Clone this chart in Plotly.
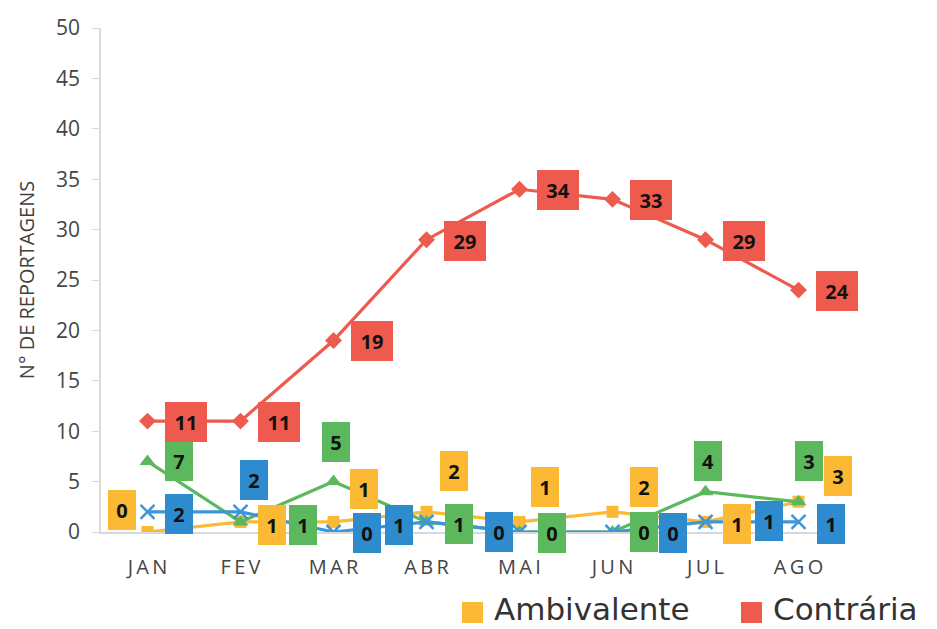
import plotly.graph_objects as go

# Monthly counts of news reports by stance
months = ["JAN", "FEV", "MAR", "ABR", "MAI", "JUN", "JUL", "AGO"]
contraria = [11, 11, 19, 29, 34, 33, 29, 24]
ambivalente = [0, 1, 1, 2, 1, 2, 1, 3]
favoravel = [7, 1, 5, 1, 0, 0, 4, 3]
neutra = [2, 2, 0, 1, 0, 0, 1, 1]

RED = "#EF5A4E"
YELLOW = "#FBB934"
GREEN = "#5CB85C"
BLUE = "#2D8BCE"
BLUE_LINE = "#3C97DA"
AXIS_TXT = "#454545"
FONT = "Open Sans"

# plot area in pixels (used for pixel offsets of the value boxes and legend)
W, H = 937, 629
L, R, T, B = 101, 92, 28, 97
PW, PH = W - L - R, H - T - B

# value-box offsets (dx right, dy down) in pixels, per series and month
off_red = [(38, 1)] * 8
off_yel = [(-26, -22), (31, 3), (30, -33), (27, -41), (25, -35), (31, -25), (31, 2), (39, -26)]
off_grn = [(31, 0), (62, 3), (2, -40), (32, 2), (32, 1), (31, 0), (2, -31), (10, -41)]
off_blu = [(31, 2), (13, -32), (33, 1), (-28, 3), (-21, 0), (60, 1), (63, -1), (32, 2)]

fig = go.Figure()

series = [
    ("Ambivalente", ambivalente, YELLOW, YELLOW, dict(symbol="square", size=12, color=YELLOW), off_yel),
    ("Favorável", favoravel, GREEN, GREEN, dict(symbol="triangle-up", size=14, color=GREEN), off_grn),
    ("Neutra", neutra, BLUE_LINE, BLUE, dict(symbol="x-thin-open", size=14,
                                             line=dict(color=BLUE_LINE, width=2.5)), off_blu),
    ("Contrária", contraria, RED, RED, dict(symbol="diamond", size=13, color=RED), off_red),
]

for name, vals, lcol, bcol, mk, _ in series:
    fig.add_trace(go.Scatter(
        x=months, y=vals, name=name, mode="lines+markers",
        line=dict(color=lcol, width=3.2), marker=mk, showlegend=False,
        hoverinfo="x+y+name",
    ))

annotations = []
for name, vals, lcol, bcol, mk, offs in series:
    for m, v, (dx, dy) in zip(months, vals, offs):
        txt = str(v)
        annotations.append(dict(
            x=m, y=v, xref="x", yref="y", text=f"<b>{txt}</b>", showarrow=False,
            xshift=dx, yshift=-dy, bgcolor=bcol, borderwidth=0, borderpad=5,
            width=18 if len(txt) == 1 else 32, height=30,
            font=dict(family=FONT, size=20, color="#111111"),
        ))


def px(xp):
    return (xp - L) / PW


def py(yp):
    return (H - B - yp) / PH


# legend drawn as coloured squares with labels under the plot
legend_items = [("Ambivalente", YELLOW, 462), ("Contrária", RED, 741)]
shapes = []
for label, col, x0 in legend_items:
    shapes.append(dict(type="rect", xref="paper", yref="paper",
                       x0=px(x0), x1=px(x0 + 21), y0=py(623), y1=py(602),
                       fillcolor=col, line=dict(width=0)))
    annotations.append(dict(x=px(x0 + 30), y=py(609), xref="paper", yref="paper",
                            text=label, showarrow=False, xanchor="left", yanchor="middle",
                            font=dict(family="DejaVu Sans", size=31, color="#333333")))

spaced = ["\u2009".join(m) for m in months]

fig.update_layout(
    width=W, height=H,
    margin=dict(l=L, r=R, t=T, b=B, pad=0),
    paper_bgcolor="white", plot_bgcolor="white",
    showlegend=False,
    xaxis=dict(
        type="category", range=[-0.5, 7.5], tickvals=months, ticktext=spaced,
        showgrid=False, zeroline=False, showline=True, linecolor="#D9D9D9", linewidth=1.5,
        ticks="", tickfont=dict(family=FONT, size=20, color=AXIS_TXT), ticklabelstandoff=16,
    ),
    yaxis=dict(
        range=[0, 50], dtick=5, showgrid=False, zeroline=False,
        showline=True, linecolor="#D9D9D9", linewidth=1.5,
        ticks="outside", ticklen=7, tickcolor="#D9D9D9", tickwidth=1,
        tickfont=dict(family=FONT, size=21, color=AXIS_TXT), ticklabelstandoff=8,
        title=dict(text="N° DE REPORTAGENS", font=dict(family=FONT, size=20, color="#404040"),
                   standoff=16),
    ),
    annotations=annotations,
    shapes=shapes,
)

fig.write_html("out.html")
